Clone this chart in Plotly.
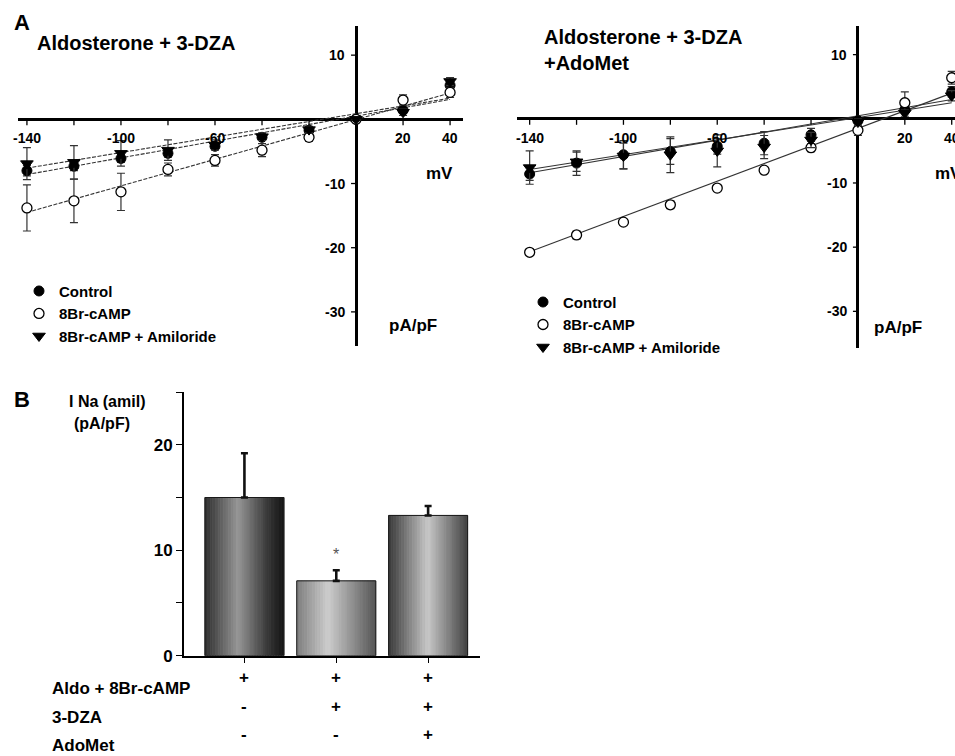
import plotly.graph_objects as go

W, H = 955, 756
FIG_H = 768
FONT = "Liberation Sans, Arial, sans-serif"

# ---------------- data: panel A (I-V curves) ----------------
voltages = [-140, -120, -100, -80, -60, -40, -20, 0, 20, 40]

left_control = [-8.0, -7.3, -6.1, -5.3, -4.2, -2.8, -1.7, 0.0, 1.4, 5.3]
left_control_err = [0.8, 0.7, 0.6, 0.6, 0.5, 0.5, 0.4, 0.2, 0.4, 0.6]
left_camp = [-13.8, -12.7, -11.3, -7.8, -6.4, -4.8, -2.8, 0.0, 3.0, 4.2]
left_camp_err = [3.6, 3.4, 2.9, 1.0, 0.9, 1.0, 0.6, 0.3, 0.8, 0.8]
left_amil = [-6.9, -6.7, -5.3, -4.8, -4.0, -2.7, -1.6, 0.0, 1.1, 5.9]
left_amil_err = [2.5, 2.6, 2.0, 1.6, 0.8, 0.6, 0.5, 0.2, 0.5, 0.6]

fit_v = [-140, 40]
left_control_fit = [-8.6, 3.1]
left_camp_fit = [-14.5, 4.1]
left_amil_fit = [-7.6, 3.3]

right_control = [-8.6, -6.9, -5.6, -5.1, -4.3, -3.8, -2.5, -0.3, 1.4, 4.2]
right_control_err = [1.0, 1.9, 2.2, 2.0, 1.2, 1.8, 1.0, 0.4, 0.5, 0.8]
right_camp = [-20.8, -18.1, -16.1, -13.4, -10.8, -8.0, -4.5, -1.8, 2.5, 6.4]
right_camp_err = [0.4, 0.6, 0.4, 0.6, 0.4, 0.5, 0.6, 0.8, 1.7, 1.0]
right_amil = [-7.6, -6.7, -5.8, -5.6, -5.0, -4.4, -3.3, -0.5, 0.9, 3.6]
right_amil_err = [2.6, 1.5, 2.0, 2.8, 2.5, 1.8, 1.2, 0.5, 0.5, 0.8]

right_control_fit = [-8.4, 3.0]
right_camp_fit = [-20.7, 4.0]
right_amil_fit = [-7.9, 2.5]

series_names = ["Control", "8Br-cAMP", "8Br-cAMP + Amiloride"]

iv_xtick_vals = [-140, -120, -100, -80, -60, -40, -20, 20, 40]
iv_xtick_text = ["-140", "", "-100", "", "-60", "", "", "20", "40"]
iv_ytick_vals = [10, -10, -20, -30]
iv_ytick_text = ["10", "-10", "-20", "-30"]

# ---------------- data: panel B (bars) ----------------
bar_pos = [0, 1, 2]
bar_values = [15.0, 7.1, 13.3]
bar_err = [4.2, 1.0, 0.9]
cond_labels = ["Aldo + 8Br-cAMP", "3-DZA", "AdoMet"]
cond_signs = [["+", "+", "+"], ["-", "+", "+"], ["-", "-", "+"]]
b_ytick_vals = [0, 5, 10, 15, 20, 25]
b_ytick_text = ["0", "", "10", "", "20", ""]


def px(x):
    return x / W


def py(y):
    return 1 - y / H


fig = go.Figure()

# ---------------- I-V traces ----------------
styles = [
    dict(symbol="circle", size=10, color="black", line=dict(color="black", width=1)),
    dict(symbol="circle", size=10, color="white", line=dict(color="black", width=1.3)),
    dict(symbol="triangle-down", size=11, color="black", line=dict(color="black", width=1)),
]


def add_panel(xa, ya, legend, vals, errs, fits, dash):
    for f in fits:
        fig.add_trace(go.Scatter(
            x=fit_v, y=f, mode="lines", xaxis=xa, yaxis=ya,
            line=dict(color="#333", width=1.1, dash=dash),
            showlegend=False, hoverinfo="skip", cliponaxis=False))
    for name, v, e, st in zip(series_names, vals, errs, styles):
        fig.add_trace(go.Scatter(
            x=voltages, y=v, mode="markers", name=name, xaxis=xa, yaxis=ya,
            marker=st, legend=legend, cliponaxis=False,
            error_y=dict(type="data", array=e, visible=True, color="#333",
                         thickness=1.2, width=4)))


add_panel("x", "y", "legend",
          [left_control, left_camp, left_amil],
          [left_control_err, left_camp_err, left_amil_err],
          [left_control_fit, left_camp_fit, left_amil_fit], "4px,1.5px")
add_panel("x2", "y2", "legend2",
          [right_control, right_camp, right_amil],
          [right_control_err, right_camp_err, right_amil_err],
          [right_control_fit, right_camp_fit, right_amil_fit], "solid")

# ---------------- bars with cylindrical gradient ----------------
grad_stops = [
    [(0.0, 45), (0.42, 150), (0.8, 55), (1.0, 20)],
    [(0.0, 125), (0.4, 205), (1.0, 85)],
    [(0.0, 55), (0.5, 200), (1.0, 65)],
]


def grad_color(stops, t):
    for (t0, c0), (t1, c1) in zip(stops[:-1], stops[1:]):
        if t0 <= t <= t1:
            c = c0 + (c1 - c0) * (t - t0) / (t1 - t0)
            c = int(round(c))
            return f"rgb({c},{c},{c})"
    c = stops[-1][1]
    return f"rgb({c},{c},{c})"


BW = 0.86
NS = 30
for i in range(NS):
    t = (i + 0.5) / NS
    cols = [grad_color(s, t) for s in grad_stops]
    fig.add_trace(go.Bar(
        x=bar_pos, y=bar_values, xaxis="x3", yaxis="y3",
        width=BW / NS, offset=-BW / 2 + i * BW / NS,
        marker=dict(color=cols, line=dict(color=cols, width=0.8)),
        showlegend=False, hoverinfo="skip"))

fig.add_trace(go.Bar(
    x=bar_pos, y=bar_values, xaxis="x3", yaxis="y3", width=BW,
    marker=dict(color="rgba(0,0,0,0)", line=dict(color="#1a1a1a", width=1)),
    error_y=dict(type="data", array=bar_err, arrayminus=[0, 0, 0], symmetric=False,
                 color="#111", thickness=2.6, width=3.5),
    showlegend=False, hoverinfo="skip"))

# ---------------- axes ----------------
def iv_axes(xdom, xr, ydom, yr):
    xa = dict(domain=xdom, range=xr, showgrid=False, showticklabels=False, ticks="",
              showline=False, zeroline=True, zerolinecolor="black", zerolinewidth=2.5,
              fixedrange=True)
    ya = dict(domain=ydom, range=yr, showgrid=False, showticklabels=False, ticks="",
              showline=False, zeroline=True, zerolinecolor="black", zerolinewidth=2.5,
              fixedrange=True)
    return xa, ya


x1, y1 = iv_axes([px(18), px(463)], [-143.8, 45.5], [py(345), py(26)], [-35.3, 14.53])
x2, y2 = iv_axes([px(517), 1.0], [-145.4, 41.4], [py(347), py(26)], [-35.7, 14.45])
y2["anchor"] = "x2"
x2["anchor"] = "y2"

x3 = dict(domain=[px(184), px(480)], range=[-0.658, 2.565], anchor="y3",
          showgrid=False, zeroline=False, showline=True, linecolor="black", linewidth=2,
          ticks="outside", ticklen=5, tickwidth=1.3, tickcolor="black",
          tickvals=bar_pos, showticklabels=False, fixedrange=True)
y3 = dict(domain=[py(654), py(391)], range=[0, 25], anchor="x3",
          showgrid=False, zeroline=False, showline=True, linecolor="black", linewidth=2,
          ticks="outside", ticklen=6, tickwidth=1.3, tickcolor="black",
          tickvals=b_ytick_vals, ticktext=b_ytick_text,
          tickfont=dict(family=FONT, size=17, color="black", weight="bold"),
          fixedrange=True)

shapes = []
annotations = []
bold = lambda s: dict(family=FONT, size=s, color="black", weight="bold")

for xa, ya in (("x", "y"), ("x2", "y2")):
    for v, t in zip(iv_xtick_vals, iv_xtick_text):
        shapes.append(dict(type="line", xref=xa, yref=ya, x0=v, x1=v,
                           ysizemode="pixel", yanchor=0, y0=0, y1=-6,
                           line=dict(color="black", width=1.3)))
        if t:
            annotations.append(dict(text=t, x=v, y=0, xref=xa, yref=ya, showarrow=False,
                                    yshift=-19, font=bold(14)))
    for v, t in zip(iv_ytick_vals, iv_ytick_text):
        shapes.append(dict(type="line", xref=xa, yref=ya, y0=v, y1=v,
                           xsizemode="pixel", xanchor=0, x0=-5, x1=0,
                           line=dict(color="black", width=1.3)))
        annotations.append(dict(text=t, x=0, y=v, xref=xa, yref=ya, showarrow=False,
                                xanchor="right", xshift=-9, font=bold(14)))


def text(t, x, y, size, xanchor="left", yanchor="middle", color="black", align="left"):
    annotations.append(dict(text=t, x=px(x), y=py(y), xref="paper", yref="paper",
                            showarrow=False, xanchor=xanchor, yanchor=yanchor, align=align,
                            font=dict(family=FONT, size=size, color=color, weight="bold")))


text("A", 12, 22, 22)
text("B", 12, 398, 22)
text("Aldosterone + 3-DZA", 35, 43, 20)
text("Aldosterone + 3-DZA<br>+AdoMet", 542, 50, 20)
text("mV", 424, 173, 17)
text("pA/pF", 387, 325, 17)
text("mV", 933, 173, 17)
text("pA/pF", 872, 327, 17)
text("I Na (amil)", 67, 400, 16)
text("(pA/pF)", 72, 422, 16)

# asterisk above second bar
annotations.append(dict(text="*", x=bar_pos[1], y=bar_values[1] + bar_err[1], xref="x3", yref="y3",
                        showarrow=False, yshift=16, font=dict(family=FONT, size=16, color="#555")))

# condition table
row_y = [687, 716, 744]
for lab, signs, yy in zip(cond_labels, cond_signs, row_y):
    text(lab, 50, yy, 17)
    for p, s in zip(bar_pos, signs):
        annotations.append(dict(text=s, x=p, y=py(yy), xref="x3", yref="paper",
                                showarrow=False, font=bold(17)))

leg_common = dict(xanchor="left", yanchor="top", bgcolor="rgba(0,0,0,0)", borderwidth=0,
                  font=dict(family=FONT, size=15, color="black", weight="bold"),
                  tracegroupgap=0, itemclick=False, itemdoubleclick=False)

fig.update_layout(
    width=W, height=FIG_H, margin=dict(l=0, r=0, t=0, b=0),
    paper_bgcolor="white", plot_bgcolor="white",
    barmode="overlay", showlegend=True,
    xaxis=x1, yaxis=y1, xaxis2=x2, yaxis2=y2, xaxis3=x3, yaxis3=y3,
    legend=dict(x=px(19), y=py(274), **leg_common),
    legend2=dict(x=px(523), y=py(285), **leg_common),
    shapes=shapes, annotations=annotations,
    font=dict(family=FONT, color="black"),
)

fig.write_html("out.html", config={"displayModeBar": False},
               post_script="document.body.style.margin='0px';document.body.style.overflow='hidden';")
